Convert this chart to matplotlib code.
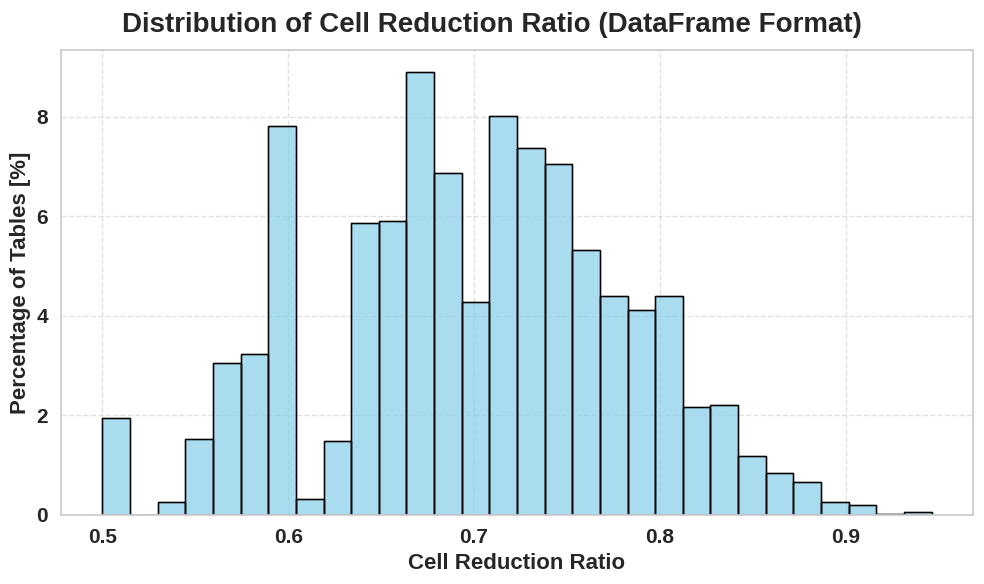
import numpy as np
import matplotlib
matplotlib.use("Agg")
import matplotlib.pyplot as plt
import seaborn as sns

# Histogram data (percentage of tables per bin)
bin_start = 0.5
bin_end = 0.94625
n_bins = 30
percentages = [1.95, 0.0, 0.27, 1.53, 3.06, 3.24, 7.82, 0.32, 1.49, 5.86,
               5.91, 8.90, 6.87, 4.29, 8.02, 7.37, 7.05, 5.32, 4.41, 4.11,
               4.41, 2.17, 2.22, 1.18, 0.84, 0.66, 0.26, 0.20, 0.02, 0.07]
xticks = [0.5, 0.6, 0.7, 0.8, 0.9]
yticks = [0, 2, 4, 6, 8]

sns.set_theme(style="whitegrid")
plt.rcParams['font.family'] = ['Liberation Sans', 'DejaVu Sans']

fig = plt.figure(figsize=(9.84, 5.84), dpi=100)
ax = fig.add_axes([61/984, 1 - 515/584, (973-61)/984, (515-50)/584])

edges = np.linspace(bin_start, bin_end, n_bins + 1)
centers = (edges[:-1] + edges[1:]) / 2
ax.hist(centers, bins=edges, weights=percentages, color='skyblue', alpha=0.7,
        edgecolor='black', linewidth=1)
# draw edges fully opaque
ax.hist(centers, bins=edges, weights=percentages, histtype='bar', facecolor='none',
        edgecolor='black', linewidth=1)

ax.set_xticks(xticks)
ax.set_xticklabels([f"{t:.1f}" for t in xticks])
ax.set_yticks(yticks)
ax.tick_params(axis='both', labelsize=15)
for lab in ax.get_xticklabels() + ax.get_yticklabels():
    lab.set_fontweight('bold')

ax.grid(True, linestyle='--', alpha=0.6)
ax.set_axisbelow(True)

ax.set_xlabel("Cell Reduction Ratio", fontsize=16, fontweight='bold', labelpad=4)
ax.set_ylabel("Percentage of Tables [%]", fontsize=16, fontweight='bold', labelpad=4)
fig.suptitle("Distribution of Cell Reduction Ratio (DataFrame Format)", fontsize=20,
             fontweight='bold', y=0.98)

fig.savefig("out.png", dpi=100)
